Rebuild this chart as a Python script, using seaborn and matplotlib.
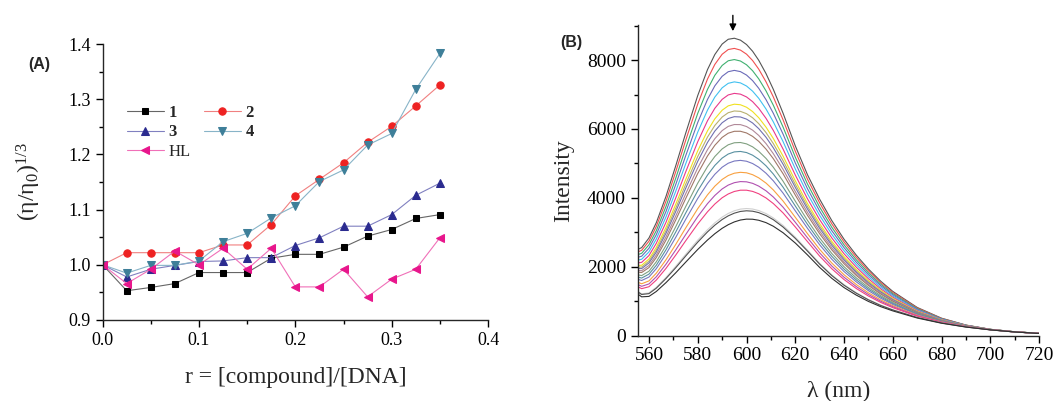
import numpy as np
import pandas as pd
import matplotlib
matplotlib.use("Agg")
import matplotlib.pyplot as plt
from matplotlib.ticker import MultipleLocator
import seaborn as sns

# ---- panel (A): relative viscosity vs r ----
r_vals = [0.0, 0.025, 0.05, 0.075, 0.1, 0.125, 0.15, 0.175, 0.2, 0.225, 0.25, 0.275, 0.3, 0.325, 0.35]
visc_1 = [1.000, 0.953, 0.959, 0.966, 0.986, 0.986, 0.986, 1.012, 1.019, 1.019, 1.032, 1.052, 1.064, 1.084, 1.091]
visc_2 = [1.000, 1.022, 1.022, 1.022, 1.022, 1.036, 1.036, 1.073, 1.125, 1.155, 1.185, 1.222, 1.251, 1.288, 1.326]
visc_3 = [1.000, 0.978, 0.992, 0.999, 1.006, 1.007, 1.013, 1.013, 1.035, 1.049, 1.070, 1.070, 1.091, 1.126, 1.148]
visc_4 = [1.000, 0.985, 0.999, 0.999, 1.007, 1.042, 1.057, 1.085, 1.107, 1.151, 1.172, 1.217, 1.238, 1.318, 1.383]
visc_HL = [1.000, 0.966, 0.992, 1.025, 1.000, 1.030, 0.992, 1.030, 0.960, 0.960, 0.992, 0.942, 0.974, 0.992, 1.049]

# ---- panel (B): emission spectra, top (1) to bottom (20) ----
wl = [555, 557, 560, 563, 567, 571, 575, 580, 584, 587, 590, 592.5, 595, 597.5, 600, 602.5,
      605, 608, 611, 615, 620, 625, 630, 635, 640, 645, 650, 655, 660, 670, 680, 690, 700, 710, 720]
I_01 = [2487, 2556, 2835, 3279, 4047, 4936, 5865, 6972, 7724, 8162, 8466, 8605, 8635, 8580, 8453, 8257, 7996, 7608, 7150, 6456, 5510, 4672, 3961, 3337, 2798, 2337, 1933, 1582, 1283, 818, 506, 307, 184, 112, 68]
I_02 = [2418, 2477, 2741, 3169, 3908, 4764, 5658, 6725, 7450, 7874, 8170, 8307, 8340, 8291, 8173, 7987, 7739, 7369, 6930, 6264, 5354, 4543, 3852, 3244, 2720, 2273, 1881, 1541, 1252, 801, 498, 304, 183, 112, 68]
I_03 = [2341, 2390, 2638, 3047, 3756, 4575, 5432, 6454, 7150, 7559, 7845, 7981, 8016, 7974, 7865, 7691, 7457, 7106, 6689, 6054, 5183, 4401, 3731, 3143, 2635, 2202, 1824, 1496, 1218, 782, 489, 300, 182, 111, 68]
I_04 = [2267, 2306, 2538, 2930, 3608, 4392, 5211, 6190, 6858, 7252, 7530, 7663, 7702, 7666, 7566, 7404, 7183, 6851, 6455, 5849, 5016, 4265, 3614, 3044, 2553, 2134, 1769, 1453, 1184, 764, 481, 297, 181, 111, 67]
I_05 = [2188, 2217, 2432, 2805, 3451, 4197, 4977, 5910, 6548, 6926, 7195, 7326, 7368, 7339, 7248, 7098, 6892, 6580, 6206, 5632, 4840, 4119, 3490, 2939, 2465, 2061, 1710, 1406, 1149, 745, 471, 293, 180, 111, 67]
I_06 = [2110, 2127, 2326, 2680, 3294, 4002, 4744, 5630, 6239, 6600, 6860, 6989, 7034, 7012, 6931, 6793, 6601, 6309, 5957, 5415, 4663, 3973, 3366, 2834, 2377, 1989, 1651, 1360, 1113, 726, 462, 290, 179, 110, 67]
I_07 = [2036, 2043, 2226, 2562, 3147, 3819, 4523, 5367, 5947, 6294, 6545, 6672, 6720, 6704, 6632, 6506, 6328, 6054, 5723, 5210, 4497, 3836, 3250, 2736, 2294, 1920, 1595, 1316, 1080, 708, 454, 286, 178, 110, 67]
I_08 = [1989, 1990, 2163, 2488, 3054, 3704, 4386, 5202, 5765, 6102, 6347, 6473, 6523, 6512, 6445, 6326, 6156, 5895, 5576, 5082, 4393, 3750, 3177, 2674, 2242, 1878, 1561, 1289, 1059, 696, 448, 284, 177, 110, 66]
I_09 = [1950, 1946, 2111, 2426, 2976, 3607, 4269, 5062, 5610, 5939, 6181, 6305, 6357, 6349, 6287, 6174, 6011, 5760, 5452, 4974, 4305, 3678, 3115, 2621, 2199, 1841, 1531, 1266, 1042, 687, 444, 282, 177, 109, 66]
I_10 = [1897, 1885, 2038, 2341, 2870, 3475, 4110, 4872, 5400, 5718, 5953, 6076, 6130, 6127, 6072, 5966, 5814, 5576, 5283, 4827, 4185, 3579, 3031, 2550, 2139, 1792, 1492, 1234, 1018, 674, 437, 280, 176, 109, 66]
I_11 = [1850, 1832, 1976, 2267, 2777, 3361, 3972, 4708, 5217, 5526, 5756, 5878, 5933, 5934, 5885, 5786, 5642, 5416, 5137, 4699, 4081, 3493, 2957, 2488, 2087, 1749, 1457, 1207, 997, 663, 432, 278, 175, 109, 66]
I_12 = [1772, 1743, 1870, 2143, 2620, 3166, 3739, 4428, 4908, 5201, 5421, 5541, 5600, 5608, 5568, 5482, 5352, 5146, 4888, 4482, 3905, 3347, 2834, 2384, 2000, 1677, 1398, 1161, 962, 643, 423, 274, 174, 109, 66]
I_13 = [1709, 1672, 1786, 2043, 2496, 3012, 3553, 4206, 4662, 4942, 5155, 5273, 5335, 5348, 5316, 5239, 5121, 4931, 4691, 4309, 3764, 3231, 2735, 2301, 1930, 1619, 1351, 1124, 933, 628, 416, 271, 174, 108, 66]
I_14 = [1647, 1601, 1701, 1944, 2371, 2857, 3368, 3984, 4417, 4684, 4890, 5006, 5070, 5089, 5064, 4997, 4891, 4716, 4494, 4137, 3624, 3116, 2637, 2217, 1860, 1562, 1305, 1087, 905, 613, 408, 268, 173, 108, 65]
I_15 = [1563, 1506, 1589, 1812, 2205, 2651, 3120, 3687, 4088, 4339, 4535, 4649, 4716, 4742, 4728, 4673, 4582, 4429, 4230, 3907, 3437, 2961, 2505, 2106, 1767, 1485, 1242, 1038, 868, 592, 399, 264, 172, 108, 65]
I_16 = [1499, 1432, 1501, 1709, 2076, 2490, 2927, 3457, 3833, 4070, 4259, 4371, 4441, 4473, 4466, 4422, 4342, 4205, 4025, 3728, 3292, 2841, 2403, 2020, 1695, 1425, 1194, 1000, 839, 577, 391, 261, 171, 107, 65]
I_17 = [1438, 1364, 1420, 1613, 1955, 2341, 2748, 3243, 3596, 3821, 4003, 4113, 4186, 4223, 4223, 4188, 4120, 3998, 3835, 3562, 3156, 2730, 2308, 1940, 1628, 1369, 1149, 965, 812, 562, 384, 259, 170, 107, 65]
I_18 = [1306, 1214, 1242, 1403, 1692, 2015, 2356, 2773, 3076, 3275, 3441, 3548, 3626, 3674, 3691, 3676, 3632, 3544, 3417, 3198, 2860, 2485, 2100, 1764, 1480, 1247, 1050, 887, 752, 530, 369, 253, 168, 106, 64]
I_19 = [1290, 1195, 1220, 1377, 1660, 1974, 2307, 2715, 3012, 3207, 3371, 3478, 3556, 3606, 3625, 3613, 3572, 3487, 3366, 3153, 2824, 2455, 2075, 1742, 1462, 1232, 1038, 877, 745, 526, 367, 252, 168, 106, 64]
I_20 = [1230, 1127, 1139, 1282, 1540, 1826, 2129, 2502, 2776, 2959, 3116, 3221, 3302, 3357, 3383, 3380, 3350, 3281, 3176, 2987, 2689, 2344, 1980, 1662, 1395, 1177, 993, 842, 718, 511, 360, 249, 167, 106, 64]

spectra = [I_01, I_02, I_03, I_04, I_05, I_06, I_07, I_08, I_09, I_10,
           I_11, I_12, I_13, I_14, I_15, I_16, I_17, I_18, I_19, I_20]
spec_colors = ["#555555", "#f05050", "#40b070", "#6a6ab8", "#40c0f0", "#e8388c", "#f0e020",
               "#b8b070", "#7070b0", "#b08898", "#a07868", "#80a080", "#5890a0", "#7878c0",
               "#f8a040", "#b050b0", "#f04080", "#d0d0d0", "#505050", "#303030"]


def setup_fonts():
	sns.set_theme(style="ticks")
	plt.rcParams["font.family"] = ["Liberation Serif", "DejaVu Serif"]
	plt.rcParams["mathtext.fontset"] = "custom"
	plt.rcParams["mathtext.rm"] = "Liberation Serif"
	plt.rcParams["mathtext.it"] = "Liberation Serif"
	plt.rcParams["axes.linewidth"] = 1.0
	plt.rcParams["xtick.color"] = "black"
	plt.rcParams["ytick.color"] = "black"


def draw_viscosity(ax):
	series = [
		("1", visc_1, "s", "#000000", "#666666", 5.0),
		("2", visc_2, "o", "#ee2222", "#f08080", 5.3),
		("3", visc_3, "^", "#2b2b8f", "#8080c0", 5.8),
		("4", visc_4, "v", "#3e7f99", "#88b4c8", 5.8),
		("HL", visc_HL, "<", "#e8168c", "#f070b8", 5.8),
	]
	for name, vals, mk, mc, lc, ms in series:
		sns.lineplot(x=r_vals, y=vals, ax=ax, color=lc, lw=0.8, marker=mk, ms=ms,
		             markerfacecolor=mc, markeredgecolor=mc, label=name)
	ax.set_xlim(0, 0.4)
	ax.set_ylim(0.9, 1.4)
	ax.xaxis.set_major_locator(MultipleLocator(0.1))
	ax.xaxis.set_minor_locator(MultipleLocator(0.05))
	ax.yaxis.set_major_locator(MultipleLocator(0.1))
	ax.yaxis.set_minor_locator(MultipleLocator(0.05))
	ax.xaxis.set_major_formatter(plt.FuncFormatter(lambda v, p: f"{v:.1f}"))
	ax.yaxis.set_major_formatter(plt.FuncFormatter(lambda v, p: f"{v:.1f}"))
	ax.tick_params(axis="both", which="major", labelsize=13, length=5, width=1, direction="out")
	ax.tick_params(axis="both", which="minor", length=3, width=1, direction="out")
	ax.set_xlabel("r = [compound]/[DNA]", fontsize=17, labelpad=13)
	ax.set_ylabel(r"$\mathrm{(\eta/\eta_0)^{1/3}}$", fontsize=17, labelpad=18)
	sns.despine(ax=ax)
	handles, labels = ax.get_legend_handles_labels()
	order = [0, 2, 4, 1, 3]
	leg = ax.legend([handles[i] for i in order], [labels[i] for i in order],
	                loc="upper left", bbox_to_anchor=(0.063, 0.78), ncol=2, frameon=False,
	                fontsize=12, handlelength=2.2, handletextpad=0.3, columnspacing=0.8,
	                labelspacing=0.22, borderpad=0, borderaxespad=0)
	for t in leg.get_texts():
		if t.get_text() != "HL":
			t.set_fontweight("bold")


def draw_spectra(ax):
	rows = []
	for k, vals in enumerate(spectra):
		for w, v in zip(wl, vals):
			rows.append({"wl": w, "I": v, "curve": k})
	df = pd.DataFrame(rows)
	sns.lineplot(data=df, x="wl", y="I", hue="curve", palette=spec_colors, legend=False,
	             lw=0.8, ax=ax)
	ax.set_xlim(555.4, 720)
	ax.set_ylim(0, 9020)
	ax.xaxis.set_major_locator(MultipleLocator(20))
	ax.xaxis.set_minor_locator(MultipleLocator(10))
	ax.yaxis.set_major_locator(MultipleLocator(2000))
	ax.yaxis.set_minor_locator(MultipleLocator(1000))
	ax.tick_params(axis="both", which="major", labelsize=14, length=5, width=1, direction="out")
	ax.tick_params(axis="both", which="minor", length=3, width=1, direction="out")
	ax.set_xlabel("λ (nm)", fontsize=17, labelpad=12)
	ax.set_ylabel("Intensity", fontsize=17, labelpad=9)
	sns.despine(ax=ax)
	ax.annotate("", xy=(594.4, 8760), xytext=(594.4, 9380), annotation_clip=False,
	            arrowprops=dict(arrowstyle="-|>", color="black", lw=1, mutation_scale=10))


def main():
	setup_fonts()
	fig = plt.figure(figsize=(10.55, 4.01), dpi=100)
	ax_a = fig.add_axes([0.0973, 0.202, 0.3653, 0.688])
	ax_b = fig.add_axes([0.6045, 0.163, 0.3805, 0.7747])
	draw_viscosity(ax_a)
	draw_spectra(ax_b)
	fig.text(0.0265, 0.84, "(A)", fontsize=11.5, fontweight="bold", family=["Liberation Sans", "DejaVu Sans"],
	         va="center")
	fig.text(0.531, 0.895, "(B)", fontsize=11.5, fontweight="bold", family=["Liberation Sans", "DejaVu Sans"],
	         va="center")
	fig.savefig("out.png", dpi=100)


if __name__ == "__main__":
	main()
